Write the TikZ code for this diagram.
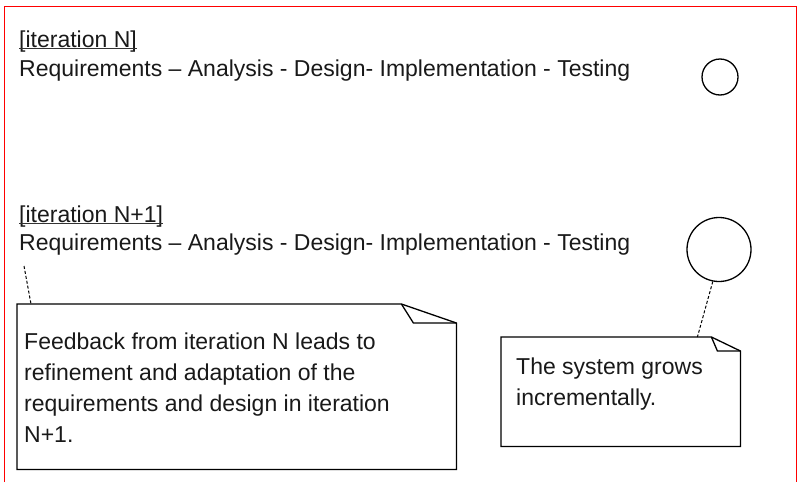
\documentclass[tikz,border=0pt]{standalone}
\usepackage{fontspec}
\setmainfont{Liberation Sans}
\begin{document}
\begin{tikzpicture}[x=1pt,y=-1pt,
  txt/.style={anchor=base west, inner sep=0pt, font=\fontsize{23}{31}\selectfont, text=black!90},
  notebox/.style={rectangle, inner sep=0pt, anchor=north west},
  noteline/.style={draw=black, line width=1.3pt, line join=miter},
  dashcon/.style={draw=black, line width=1pt, dash pattern=on 3pt off 2pt},
  ring/.style={circle, draw=black, line width=1.3pt, inner sep=0pt}]
\useasboundingbox (0,0) rectangle (806,482);
\draw[red, line width=1pt] (4.5,482) -- (4.5,6) -- (796,6) -- (796,482);

% iteration N
\node[txt] (itN) at (19,47) {[iteration N]};
\draw[black!80, line width=0.8pt] ([yshift=-1.5]itN.base west) -- ([yshift=-1.5]itN.base east);
\node[txt] (reqN) at (19,76) {Requirements – Analysis - Design- Implementation - Testing};
\node[ring, minimum size=36] (c1) at (720,77) {};

% iteration N+1
\node[txt] (itN1) at (19,222) {[iteration N+1]};
\draw[black!80, line width=0.8pt] ([yshift=-1.5]itN1.base west) -- ([yshift=-1.5]itN1.base east);
\node[txt] (reqN1) at (19,250) {Requirements – Analysis - Design- Implementation - Testing};
\node[ring, minimum size=64] (c2) at (719,249.5) {};

% left note
\node[notebox, minimum width=439, minimum height=165] (fb) at (17,304) {};
\draw[noteline] (fb.north west) -- ([xshift=-55]fb.north east) -- ([yshift=-19]fb.north east)
  -- (fb.south east) -- (fb.south west) -- cycle;
\draw[noteline] ([xshift=-55]fb.north east) -- ([xshift=-43,yshift=-19]fb.north east) -- ([yshift=-19]fb.north east);
\node[txt, align=left] (fbtext) at (24,442) {Feedback from iteration N leads to\\refinement and adaptation of the\\requirements and design in iteration\\N+1.};
\coordinate (fbend) at (24,266);
\draw[dashcon] (fbend) -- ([xshift=14]fb.north west);

% right note
\node[notebox, minimum width=239, minimum height=109] (rn) at (501,337) {};
\draw[noteline] (rn.north west) -- ([xshift=-29]rn.north east) -- ([yshift=-14]rn.north east)
  -- (rn.south east) -- (rn.south west) -- cycle;
\draw[noteline] ([xshift=-29]rn.north east) -- ([xshift=-23,yshift=-14]rn.north east) -- ([yshift=-14]rn.north east);
\node[txt, align=left] (rntext) at (516,405) {The system grows\\incrementally.};
\draw[dashcon] (c2.259) -- ([xshift=-43]rn.north east);
\end{tikzpicture}
\end{document}
